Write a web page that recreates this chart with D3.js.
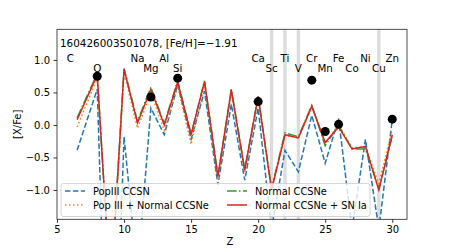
<!DOCTYPE html>
<html><head><meta charset="utf-8">
<script src="https://cdn.jsdelivr.net/npm/d3@7"></script>
<style>body{margin:0;background:#fff}svg text{font-family:"DejaVu Sans",sans-serif}</style>
</head><body><svg id="c" width="452" height="251"></svg>
<script>
const Z = [6.5, 8, 9, 10, 11, 12, 13, 14, 15, 16, 17, 18, 19, 20, 21, 22, 23, 24, 25, 26, 27, 28, 29, 30];
const popIII =      [-0.39, 0.55, -6.0, -0.18, -2.3, 0.26, -0.15, 0.62, -0.22, 0.52, -0.92, 0.32, -0.85, 0.26, -1.6, -0.39, -0.72, 0.15, -0.59, 0.10, -1.6, -0.22, -1.6, 0.08];
const popIIINormal = [-0.03, 0.72, -2.6, 0.80, -0.05, 0.49, -0.08, 0.60, -0.30, 0.62, -0.84, 0.50, -0.72, 0.42, -1.0, -0.16, -0.20, 0.28, -0.28, 0.0, -0.35, -0.34, -0.90, -0.07];
const normal =      [0.11, 0.79, -2.6, 0.87, 0.06, 0.58, 0.02, 0.68, -0.14, 0.68, -0.78, 0.55, -0.68, 0.44, -0.98, -0.12, -0.18, 0.30, -0.32, 0.0, -0.37, -0.37, -0.98, -0.17];
const normalIa =    [0.08, 0.77, -2.6, 0.86, 0.03, 0.55, 0.0, 0.66, -0.15, 0.67, -0.79, 0.54, -0.70, 0.44, -1.0, -0.15, -0.20, 0.29, -0.27, -0.03, -0.37, -0.33, -1.0, -0.15];
const obsZ = [8, 12, 14, 20, 24, 25, 26, 30];
const obsVal = [0.75, 0.43, 0.72, 0.36, 0.69, -0.10, 0.01, 0.09];
const elemNames = ["C","O","Na","Mg","Al","Si","Ca","Sc","Ti","V","Cr","Mn","Fe","Co","Ni","Cu","Zn"];
const elemZ =     [6, 8, 11, 12, 13, 14, 20, 21, 22, 23, 24, 25, 26, 27, 28, 29, 30];
const upperRow =  [true,false,true,false,true,false,true,false,true,false,true,false,true,false,true,false,true];
const bandZ = [21, 22, 23, 29];
const xTicks = [5, 10, 15, 20, 25, 30];
const yTicks = [-1.0, -0.5, 0.0, 0.5, 1.0];
const title = "160426003501078, [Fe/H]=\u22121.91";
const seriesNames = ["PopIII CCSN", "Pop III + Normal CCSNe", "Normal CCSNe", "Normal CCSNe + SN Ia"];

const L = 57, R = 407, T = 29.3, B = 219.3;
const FS = 10;
const x = d3.scaleLinear().domain([5, 31.1]).range([L, R]);
const y = d3.scaleLinear().domain([-1.451, 1.472]).range([B, T]);
const svg = d3.select("#c");
const fmt = v => (v < 0 ? "\u2212" : "") + Math.abs(v).toFixed(1);

svg.append("defs").append("clipPath").attr("id", "clip")
  .append("rect").attr("x", L).attr("y", T).attr("width", R - L).attr("height", B - T);

// bands
svg.append("g").selectAll("rect").data(bandZ).join("rect")
  .attr("x", d => x(d - 0.125)).attr("width", d => x(d + 0.125) - x(d - 0.125))
  .attr("y", T).attr("height", B - T).attr("fill", "#dcdcdc");

const series = [
  {v: popIII, c: "#1f77b4", dash: "5.5,2.4"},
  {v: popIIINormal, c: "#ff7f0e", dash: "1.5,2.5"},
  {v: normal, c: "#2ca02c", dash: "9.6,2.4,1.5,2.4"},
  {v: normalIa, c: "#d62728", dash: null}
];
const line = d3.line().x(d => x(d[0])).y(d => y(d[1]));
const gl = svg.append("g").attr("clip-path", "url(#clip)");
series.forEach(s => {
  gl.append("path").attr("d", line(Z.map((z, i) => [z, s.v[i]])))
    .attr("fill", "none").attr("stroke", s.c).attr("stroke-width", 1.5)
    .attr("stroke-dasharray", s.dash);
});
gl.append("g").selectAll("circle").data(obsZ).join("circle")
  .attr("cx", d => x(d)).attr("cy", (d, i) => y(obsVal[i])).attr("r", 4.5).attr("fill", "#000");

// element labels
svg.append("g").selectAll("text").data(elemNames).join("text")
  .attr("x", (d, i) => x(elemZ[i])).attr("y", (d, i) => upperRow[i] ? 62 : 71.5)
  .attr("text-anchor", "middle").attr("font-size", 10.3).attr("fill", "#000").text(d => d);

svg.append("text").attr("x", 60).attr("y", 46.5).attr("font-size", 10.4).text(title);

// axes
const xa = svg.append("g").attr("transform", `translate(0,${B})`)
  .call(d3.axisBottom(x).tickValues(xTicks).tickSize(3.5).tickPadding(3).tickFormat(d3.format("d")));
const ya = svg.append("g").attr("transform", `translate(${L},0)`)
  .call(d3.axisLeft(y).tickValues(yTicks).tickSize(3.5).tickPadding(3.5).tickFormat(fmt));
[xa, ya].forEach(a => {
  a.select(".domain").remove();
  a.selectAll("line").attr("stroke", "#000").attr("stroke-width", 0.8);
  a.selectAll("text").attr("font-size", FS).attr("fill", "#000").attr("font-family", "DejaVu Sans");
});
svg.append("rect").attr("x", L).attr("y", T).attr("width", R - L).attr("height", B - T)
  .attr("fill", "none").attr("stroke", "#222").attr("stroke-width", 0.8);

svg.append("text").attr("x", 230).attr("y", 245).attr("text-anchor", "middle").attr("font-size", FS).text("Z");
svg.append("text").attr("transform", `translate(21,${(T + B) / 2}) rotate(-90)`)
  .attr("text-anchor", "middle").attr("font-size", FS).text("[X/Fe]");

// legend
const lg = svg.append("g");
lg.append("rect").attr("x", 61).attr("y", 183.5).attr("width", 309).attr("height", 33)
  .attr("rx", 2.5).attr("fill", "#fff").attr("fill-opacity", 0.8).attr("stroke", "#ccc").attr("stroke-width", 0.8);
const legPos = [[65, 191], [65, 205], [227, 191], [227, 205]];
series.forEach((s, i) => {
  const [lx, ly] = legPos[i];
  lg.append("line").attr("x1", lx).attr("x2", lx + 20).attr("y1", ly).attr("y2", ly)
    .attr("stroke", s.c).attr("stroke-width", 1.5).attr("stroke-dasharray", s.dash);
  lg.append("text").attr("x", lx + 28).attr("y", ly + 3.6).attr("font-size", 9.8).text(seriesNames[i]);
});
</script></body></html>
